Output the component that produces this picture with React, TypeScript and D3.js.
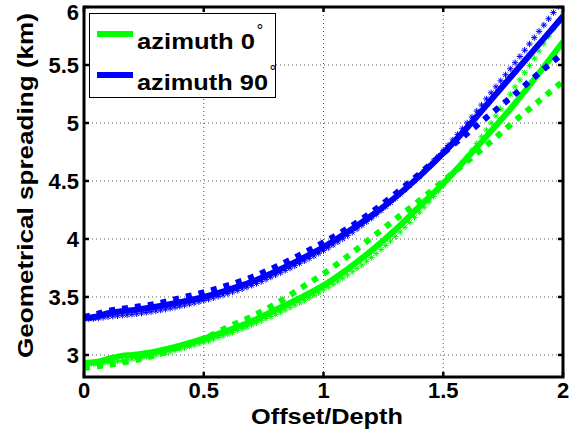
import React, { useEffect, useRef } from "react";
import * as d3 from "d3";

const W = 582;
const H = 439;

const offsetDepth = [0, 0.05, 0.1, 0.15, 0.2, 0.3, 0.4, 0.5, 0.6, 0.7, 0.8, 0.9, 1.0, 1.1, 1.2, 1.3, 1.4, 1.5, 1.6, 1.7, 1.8, 1.9, 2.0];

const az0Solid = [2.93, 2.94, 2.965, 2.99, 3.0, 3.03, 3.08, 3.14, 3.21, 3.29, 3.39, 3.49, 3.6, 3.74, 3.9, 4.08, 4.28, 4.48, 4.7, 4.93, 5.17, 5.43, 5.7];
const az0Stars = [2.92, 2.925, 2.935, 2.95, 2.965, 3.0, 3.05, 3.11, 3.18, 3.26, 3.35, 3.45, 3.56, 3.69, 3.84, 4.02, 4.23, 4.46, 4.71, 5.0, 5.31, 5.62, 5.94];
const az0Squares = [2.89, 2.9, 2.915, 2.93, 2.95, 3.0, 3.07, 3.14, 3.24, 3.33, 3.44, 3.57, 3.7, 3.85, 4.01, 4.17, 4.33, 4.5, 4.67, 4.84, 5.02, 5.19, 5.36];

const az90Solid = [3.32, 3.33, 3.36, 3.375, 3.385, 3.415, 3.455, 3.5, 3.56, 3.63, 3.72, 3.82, 3.93, 4.06, 4.2, 4.36, 4.54, 4.74, 4.96, 5.2, 5.44, 5.68, 5.92];
const az90Stars = [3.31, 3.315, 3.33, 3.34, 3.35, 3.38, 3.42, 3.47, 3.53, 3.6, 3.69, 3.79, 3.9, 4.03, 4.18, 4.35, 4.54, 4.76, 5.0, 5.26, 5.52, 5.79, 6.06];
const az90Squares = [3.33, 3.35, 3.38, 3.395, 3.41, 3.44, 3.49, 3.54, 3.6, 3.67, 3.76, 3.86, 3.97, 4.09, 4.23, 4.39, 4.56, 4.74, 4.91, 5.08, 5.25, 5.43, 5.6];

const xTicks = [0, 0.5, 1, 1.5, 2];
const yTicks = [3, 3.5, 4, 4.5, 5, 5.5, 6];
const legendLabels = ["azimuth 0", "azimuth 90"];
const xLabel = "Offset/Depth";
const yLabel = "Geometrical spreading (km)";

const GREEN = "#00ff00";
const BLUE = "#0000ff";
const FONT = "'Liberation Sans', Arial, Helvetica, sans-serif";

export default function App() {
  const ref = useRef<SVGSVGElement | null>(null);

  useEffect(() => {
    const svg = d3.select(ref.current);
    svg.selectAll("*").remove();

    const x = d3.scaleLinear().domain([0, 2]).range([84, 563]);
    const y = d3.scaleLinear().domain([2.81, 6]).range([377, 7]);

    const defs = svg.append("defs");
    defs.append("clipPath").attr("id", "plotclip")
      .append("rect").attr("x", 84).attr("y", 7).attr("width", 479).attr("height", 370);

    svg.append("rect").attr("width", W).attr("height", H).attr("fill", "white");

    // grid
    const grid = svg.append("g");
    xTicks.slice(1, -1).forEach((t) => {
      grid.append("line").attr("x1", x(t)).attr("x2", x(t)).attr("y1", 7).attr("y2", 377)
        .attr("stroke", "#555").attr("stroke-width", 1).attr("stroke-dasharray", "1,3");
    });
    yTicks.slice(0, -1).forEach((t) => {
      grid.append("line").attr("x1", 84).attr("x2", 563).attr("y1", y(t)).attr("y2", y(t))
        .attr("stroke", "#555").attr("stroke-width", 1).attr("stroke-dasharray", "1,3");
    });

    const plot = svg.append("g").attr("clip-path", "url(#plotclip)");
    const line = d3.line<number>()
      .x((_, i) => x(offsetDepth[i]))
      .y((d) => y(d))
      .curve(d3.curveMonotoneX);

    const starPath = "M-3.2,0L3.2,0M0,-3.2L0,3.2M-2.3,-2.3L2.3,2.3M-2.3,2.3L2.3,-2.3";

    const drawSolid = (vals: number[], color: string) => {
      plot.append("path").attr("d", line(vals)).attr("fill", "none")
        .attr("stroke", color).attr("stroke-width", 6);
    };
    const drawSquares = (vals: number[], color: string) => {
      plot.append("path").attr("d", line(vals)).attr("fill", "none")
        .attr("stroke", color).attr("stroke-width", 6).attr("stroke-dasharray", "6,7");
    };
    const drawStars = (vals: number[], color: string) => {
      const p = plot.append("path").attr("d", line(vals)).attr("fill", "none")
        .attr("stroke", "none");
      const node = p.node() as SVGPathElement;
      const total = node.getTotalLength();
      const g = plot.append("g");
      const step = 0.02;
      for (let k = 0; k <= Math.round(2 / step); k++) {
        const tx = x(k * step);
        let lo = 0, hi = total;
        for (let it = 0; it < 30; it++) {
          const mid = (lo + hi) / 2;
          if (node.getPointAtLength(mid).x < tx) lo = mid; else hi = mid;
        }
        const pt = node.getPointAtLength((lo + hi) / 2);
        g.append("path").attr("d", starPath)
          .attr("transform", `translate(${pt.x},${pt.y})`)
          .attr("stroke", color).attr("stroke-width", 1).attr("fill", "none");
      }
    };

    drawSolid(az0Solid, GREEN);
    drawStars(az0Stars, GREEN);
    drawSquares(az0Squares, GREEN);
    drawSolid(az90Solid, BLUE);
    drawStars(az90Stars, BLUE);
    drawSquares(az90Squares, BLUE);

    // ticks (inward, both sides)
    const ticks = svg.append("g").attr("stroke", "black").attr("stroke-width", 2.5);
    xTicks.forEach((t) => {
      ticks.append("line").attr("x1", x(t)).attr("x2", x(t)).attr("y1", 377).attr("y2", 372);
      ticks.append("line").attr("x1", x(t)).attr("x2", x(t)).attr("y1", 7).attr("y2", 12);
    });
    yTicks.forEach((t) => {
      ticks.append("line").attr("x1", 84).attr("x2", 89).attr("y1", y(t)).attr("y2", y(t));
      ticks.append("line").attr("x1", 563).attr("x2", 558).attr("y1", y(t)).attr("y2", y(t));
    });

    // box
    svg.append("rect").attr("x", 84).attr("y", 7).attr("width", 479).attr("height", 370)
      .attr("fill", "none").attr("stroke", "black").attr("stroke-width", 3);

    // tick labels
    const tl = svg.append("g").attr("font-family", FONT).attr("font-weight", "bold")
      .attr("font-size", 22).attr("fill", "black");
    xTicks.forEach((t) => {
      tl.append("text").attr("x", x(t)).attr("y", 398).attr("text-anchor", "middle").text(String(t));
    });
    yTicks.forEach((t) => {
      tl.append("text").attr("x", 79).attr("y", Math.max(y(t) + 8, 20)).attr("text-anchor", "end").text(String(t));
    });

    // axis labels
    svg.append("text").attr("x", 327).attr("y", 424).attr("text-anchor", "middle")
      .attr("font-family", FONT).attr("font-weight", "bold").attr("font-size", 22)
      .attr("textLength", 152).attr("lengthAdjust", "spacingAndGlyphs").text(xLabel);
    svg.append("text").attr("transform", "translate(33,185.5) rotate(-90)")
      .attr("text-anchor", "middle")
      .attr("font-family", FONT).attr("font-weight", "bold").attr("font-size", 22)
      .attr("textLength", 345).attr("lengthAdjust", "spacingAndGlyphs").text(yLabel);

    // legend
    const lg = svg.append("g");
    lg.append("rect").attr("x", 89.5).attr("y", 13.5).attr("width", 186).attr("height", 84)
      .attr("fill", "white").attr("stroke", "black").attr("stroke-width", 1);
    const legendColors = [GREEN, BLUE];
    const legendY = [34, 75];
    const legendW = [118, 131];
    const degX = [260, 273];
    legendLabels.forEach((lab, i) => {
      lg.append("line").attr("x1", 97).attr("x2", 133).attr("y1", legendY[i]).attr("y2", legendY[i])
        .attr("stroke", legendColors[i]).attr("stroke-width", 6);
      lg.append("text").attr("x", 137).attr("y", legendY[i] + 14.5)
        .attr("font-family", FONT).attr("font-weight", "bold").attr("font-size", 22)
        .attr("textLength", legendW[i]).attr("lengthAdjust", "spacingAndGlyphs").text(lab);
      lg.append("text").attr("x", degX[i]).attr("y", legendY[i] + 2)
        .attr("text-anchor", "middle").attr("fill", "black")
        .attr("font-family", FONT).attr("font-size", 17).text("°");
    });
  }, []);

  return (
    <svg ref={ref} width={W} height={H}
      style={{ position: "absolute", left: 0, top: 0, display: "block" }} />
  );
}
